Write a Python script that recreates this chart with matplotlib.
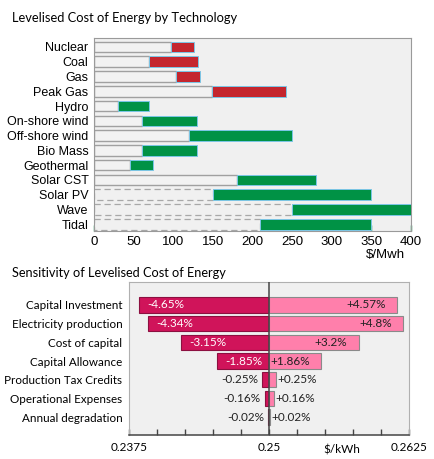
import matplotlib.pyplot as plt
import numpy as np

# --- top chart data ($/MWh) ---
techs = ['Nuclear', 'Coal', 'Gas', 'Peak Gas', 'Hydro', 'On-shore wind',
         'Off-shore wind', 'Bio Mass', 'Geothermal', 'Solar CST', 'Solar PV',
         'Wave', 'Tidal']
cost_low = [97, 69, 103, 149, 30, 60, 120, 60, 45, 180, 150, 250, 210]
cost_high = [126, 131, 134, 242, 70, 130, 250, 130, 75, 280, 350, 400, 350]
is_fossil = [True, True, True, True, False, False, False, False, False,
             False, False, False, False]
is_dashed = [False] * 10 + [True, True, True]
cost_ticks = [0, 50, 100, 150, 200, 250, 300, 350, 400]

# --- bottom chart data (% change on base LCOE) ---
base = 0.25
factors = ['Capital Investment', 'Electricity production', 'Cost of capital',
           'Capital Allowance', 'Production Tax Credits',
           'Operational Expenses', 'Annual degradation']
pct_down = [-4.65, -4.34, -3.15, -1.85, -0.25, -0.16, -0.02]
pct_up = [4.57, 4.8, 3.2, 1.86, 0.25, 0.16, 0.02]
up_labels = ['+4.57%', '+4.8%', '+3.2%', '+1.86%', '+0.25%', '+0.16%', '+0.02%']
down_labels = ['-4.65%', '-4.34%', '-3.15%', '-1.85%', '-0.25%', '-0.16%', '-0.02%']

RED = '#c4262e'
GREEN = '#009245'
DARK_PINK = '#d0145a'
LIGHT_PINK = '#ff7fab'
BG = '#f0f0f0'

tfont = ['Lato', 'DejaVu Sans']
lfont = ['Liberation Sans', 'DejaVu Sans']

fig = plt.figure(figsize=(4.35, 4.59), dpi=100)

# ---------------- top chart ----------------
ax1 = fig.add_axes([0.216, 0.497, 0.729, 0.42])
ax1.set_facecolor(BG)
y = np.arange(len(techs))
h = 0.72
for i in range(len(techs)):
    if is_dashed[i]:
        ax1.barh(y[i], cost_low[i], height=h, color=BG, edgecolor='#a8a8a8',
                 linewidth=0.9, linestyle=(0, (5, 3)), zorder=2)
    else:
        ax1.barh(y[i], cost_low[i], height=h, color='#f2f2f2', edgecolor='#a0a0a0',
                 linewidth=1.0, zorder=2)
    ax1.barh(y[i], cost_high[i] - cost_low[i], left=cost_low[i], height=h,
             color=RED if is_fossil[i] else GREEN, edgecolor='#7cc6e6',
             linewidth=0.7, zorder=3)
ax1.set_xlim(0, 400)
ax1.set_ylim(12.45, -0.6)
ax1.set_yticks(y)
ax1.set_yticklabels(techs, fontsize=9, family=lfont)
ax1.tick_params(axis='y', length=0, pad=4)
ax1.set_xticks(cost_ticks)
ax1.set_xticklabels([str(v) for v in cost_ticks], fontsize=9.5, family=lfont)
ax1.tick_params(axis='x', direction='in', length=4, color=GREEN, width=1, pad=4)
for s in ax1.spines.values():
    s.set_color('#9a9a9a')
    s.set_linewidth(0.8)
ax1.text(0.92, -0.125, '$/Mwh', transform=ax1.transAxes, fontsize=9.5,
         family=lfont, ha='center', va='center')
fig.text(0.028, 0.961, 'Levelised Cost of Energy by Technology', fontsize=9.3,
         family=tfont, ha='left', va='center')

# ---------------- bottom chart ----------------
ax2 = fig.add_axes([0.297, 0.052, 0.643, 0.334])
ax2.set_facecolor(BG)
yb = np.arange(len(factors))
hb = 0.82
low_vals = [base * (1 + p / 100) for p in pct_down]
high_vals = [base * (1 + p / 100) for p in pct_up]
for i in range(len(factors)):
    ax2.barh(yb[i], low_vals[i] - base, left=base, height=hb, color=DARK_PINK,
             edgecolor='#8c1040', linewidth=0.8, zorder=2)
    ax2.barh(yb[i], high_vals[i] - base, left=base, height=hb, color=LIGHT_PINK,
             edgecolor='#8a8a8a', linewidth=0.8, zorder=2)
    if abs(pct_down[i]) > 1:
        ax2.annotate(down_labels[i], (low_vals[i], yb[i]), xytext=(6, 0),
                     textcoords='offset points', ha='left', va='center',
                     color='white', fontsize=8.5, family=tfont, zorder=4)
        ax2.annotate(up_labels[i], (high_vals[i], yb[i]), xytext=(-8, 0),
                     textcoords='offset points', ha='right', va='center',
                     color='#222222', fontsize=8.5, family=tfont, zorder=4)
    else:
        ax2.annotate(down_labels[i], (low_vals[i], yb[i]), xytext=(-3, 0),
                     textcoords='offset points', ha='right', va='center',
                     color='#222222', fontsize=8.5, family=tfont, zorder=4)
        ax2.annotate(up_labels[i], (high_vals[i], yb[i]), xytext=(1, 0),
                     textcoords='offset points', ha='left', va='center',
                     color='#222222', fontsize=8.5, family=tfont, zorder=4)
ax2.axvline(base, color='#444444', linewidth=1.1, zorder=3)
ax2.set_xlim(0.2375, 0.2625)
ax2.set_ylim(6.96, -1.23)
ax2.set_yticks(yb)
ax2.set_yticklabels(factors, fontsize=8.4, family=tfont)
ax2.tick_params(axis='y', length=0, pad=5)
ax2.set_xticks(np.linspace(0.2375, 0.2625, 11))
ax2.set_xticklabels(['0.2375', '', '', '', '', '0.25', '', '', '', '', '0.2625'],
                    fontsize=8.5, family=tfont)
ax2.tick_params(axis='x', direction='in', length=4, color='#444444', width=1, pad=5)
for k in ['top', 'right', 'left']:
    ax2.spines[k].set_color('#b0b0b0')
    ax2.spines[k].set_linewidth(0.8)
ax2.spines['bottom'].set_color('#444444')
ax2.spines['bottom'].set_linewidth(1.1)
ax2.text(0.76, -0.1, '$/kWh', transform=ax2.transAxes, fontsize=8.5,
         family=tfont, ha='center', va='center')
fig.text(0.028, 0.406, 'Sensitivity of Levelised Cost of Energy', fontsize=9.2,
         family=tfont, ha='left', va='center')

fig.savefig('out.png', dpi=100)
